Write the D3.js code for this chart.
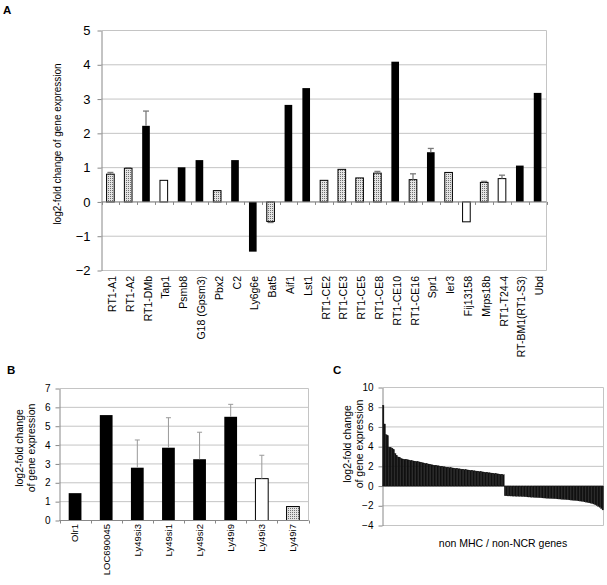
<!DOCTYPE html>
<html>
<head>
<meta charset="utf-8">
<script src="https://cdnjs.cloudflare.com/ajax/libs/d3/7.8.5/d3.min.js"></script>
<style>
body { margin: 0; background: #fff; }
svg { display: block; font-family: "Liberation Sans", Arial, sans-serif; }
</style>
</head>
<body>
<svg id="fig" width="607" height="585"></svg>
<script>
// panel A: MHC region genes
var genesA = ["RT1-A1", "RT1-A2", "RT1-DMb", "Tap1", "Psmb8", "G18 (Gpsm3)", "Pbx2", "C2",
    "Ly6g6e", "Bat5", "Aif1", "Lst1", "RT1-CE2", "RT1-CE3", "RT1-CE5", "RT1-CE8", "RT1-CE10",
    "RT1-CE16", "Spr1", "Ier3", "Fij13158", "Mrps18b", "RT1-T24-4", "RT-BM1(RT1-S3)", "Ubd"];
var valuesA = [0.81, 0.98, 2.22, 0.63, 1.01, 1.22, 0.33, 1.22, -1.45, -0.57, 2.83, 3.32, 0.63,
    0.95, 0.70, 0.84, 4.09, 0.65, 1.45, 0.86, -0.58, 0.57, 0.68, 1.06, 3.18];
var errA = [0.05, 0.02, 0.43, 0, 0, 0, 0, 0, 0, 0.03, 0, 0, 0, 0, 0, 0.05, 0, 0.17, 0.11, 0,
    0, 0.03, 0.10, 0, 0];
// k = solid, d = dotted, w = open
var fillA = ["d", "d", "k", "w", "k", "k", "d", "k", "k", "d", "k", "k", "d", "d", "d", "d", "k",
    "d", "k", "d", "w", "d", "w", "k", "k"];
var ticksA = [-2, -1, 0, 1, 2, 3, 4, 5];

// panel B: NCR genes
var genesB = ["Olr1", "LOC690045", "Ly49si3", "Ly49si1", "Ly49si2", "Ly49i9", "Ly49i3", "Ly49i7"];
var valuesB = [1.45, 5.59, 2.80, 3.86, 3.25, 5.50, 2.22, 0.74];
var errB = [0, 0, 1.47, 1.59, 1.43, 0.66, 1.24, 0];
var fillB = ["k", "k", "k", "k", "k", "k", "w", "d"];
var ticksB = [0, 1, 2, 3, 4, 5, 6, 7];

// panel C: non MHC / non-NCR genes, sorted
var posC = [8.2, 6.3, 5.2, 5.1, 3.95, 3.9, 3.85, 3.7, 3.3, 3.1, 2.95, 2.9, 2.8, 2.75, 2.72, 2.7,
    2.68, 2.65, 2.6, 2.57, 2.55, 2.52, 2.5, 2.47, 2.45, 2.4, 2.37, 2.34, 2.3, 2.27, 2.24, 2.2,
    2.17, 2.14, 2.12, 2.1, 2.07, 2.05, 2.02, 2.0, 1.97, 1.95, 1.92, 1.9, 1.88, 1.86, 1.84, 1.82,
    1.8, 1.78, 1.76, 1.74, 1.72, 1.7, 1.68, 1.66, 1.64, 1.62, 1.6, 1.58, 1.56, 1.54, 1.52, 1.5,
    1.48, 1.46, 1.44, 1.42, 1.4, 1.38, 1.36, 1.34, 1.32, 1.3, 1.28, 1.26, 1.24, 1.22, 1.2, 1.18,
    1.15];
var negC = [-0.98, -0.99, -1.0, -1.0, -1.01, -1.02, -1.02, -1.03, -1.04, -1.04, -1.05, -1.06,
    -1.07, -1.08, -1.09, -1.1, -1.11, -1.12, -1.13, -1.14, -1.15, -1.16, -1.17, -1.18, -1.19,
    -1.2, -1.21, -1.22, -1.23, -1.24, -1.25, -1.26, -1.27, -1.28, -1.29, -1.3, -1.31, -1.32,
    -1.34, -1.35, -1.36, -1.38, -1.39, -1.4, -1.42, -1.43, -1.45, -1.46, -1.48, -1.5, -1.52,
    -1.54, -1.56, -1.6, -1.63, -1.66, -1.7, -1.73, -1.77, -1.82, -1.9, -1.98, -2.06, -2.15,
    -2.28, -2.42];
var ticksC = [-4, -2, 0, 2, 4, 6, 8, 10];

var GRID = "#c4c4c4", AXIS = "#888";
var svg = d3.select("#fig");

var pat = svg.append("defs").append("pattern")
    .attr("id", "dots")
    .attr("patternUnits", "userSpaceOnUse")
    .attr("width", 2).attr("height", 2);
pat.append("rect").attr("width", 2).attr("height", 2).attr("fill", "#e4e4e4");
pat.append("rect").attr("width", 1).attr("height", 1).attr("fill", "#707070");

function fillOf(t) {
    if (t == "k") return "#000";
    if (t == "d") return "url(#dots)";
    return "#fff";
}

// gridlines, right border, left axis
function frame(g, y, ticks, x0, x1, fontSize, pad) {
    g.selectAll("line.grid").data(ticks).enter().append("line")
        .attr("class", "grid")
        .attr("x1", x0).attr("x2", x1)
        .attr("y1", function(d) { return y(d); })
        .attr("y2", function(d) { return y(d); })
        .attr("stroke", GRID);
    g.append("line")
        .attr("x1", x1).attr("x2", x1)
        .attr("y1", y.range()[0]).attr("y2", y.range()[1])
        .attr("stroke", GRID);
    var ax = g.append("g")
        .attr("transform", "translate(" + x0 + ",0)")
        .call(d3.axisLeft(y).tickValues(ticks).tickFormat(d3.format("d"))
            .tickSize(4).tickSizeOuter(0).tickPadding(pad));
    ax.attr("font-family", null).attr("font-size", fontSize);
    ax.select(".domain").attr("stroke", AXIS);
    ax.selectAll(".tick line").attr("stroke", AXIS);
    ax.selectAll(".tick text").attr("fill", "#000");
}

// zero line with category ticks hanging below it
function zeroAxis(g, x, y, n) {
    var x0 = x.range()[0], x1 = x.range()[1];
    g.append("line")
        .attr("x1", x0).attr("x2", x1)
        .attr("y1", y(0)).attr("y2", y(0))
        .attr("stroke", AXIS);
    g.selectAll("line.xtick").data(d3.range(n + 1)).enter().append("line")
        .attr("class", "xtick")
        .attr("x1", function(i) { return Math.round(x0 + i * x.step()) + 0.5; })
        .attr("x2", function(i) { return Math.round(x0 + i * x.step()) + 0.5; })
        .attr("y1", y(0)).attr("y2", y(0) + 3)
        .attr("stroke", AXIS);
}

function barPanel(cfg) {
    var g = svg.append("g");
    var rows = cfg.genes.map(function(name, i) {
        return { name: name, v: cfg.values[i], e: cfg.err[i], f: cfg.fill[i] };
    });
    var y = d3.scaleLinear().domain(d3.extent(cfg.ticks)).range([cfg.bottom, cfg.top]);
    var x = d3.scaleBand().domain(cfg.genes).range([cfg.left, cfg.right])
        .paddingInner(cfg.pad).paddingOuter(cfg.pad / 2);

    frame(g, y, cfg.ticks, cfg.left, cfg.right, cfg.tickFont, cfg.tickPad);

    g.selectAll("rect.bar").data(rows).enter().append("rect")
        .attr("class", "bar")
        .attr("x", function(d) { return x(d.name); })
        .attr("width", x.bandwidth())
        .attr("y", function(d) { return y(Math.max(0, d.v)); })
        .attr("height", function(d) { return Math.abs(y(d.v) - y(0)); })
        .attr("fill", function(d) { return fillOf(d.f); })
        .attr("stroke", "#000")
        .attr("stroke-width", function(d) { return d.f == "k" ? 0 : 1; });

    var eb = rows.filter(function(d) { return d.e > 0; });
    var cx = function(d) { return x(d.name) + x.bandwidth() / 2; };
    var tip = function(d) { return y(d.v + (d.v < 0 ? -d.e : d.e)); };
    g.selectAll("line.err").data(eb).enter().append("line")
        .attr("class", "err")
        .attr("x1", cx).attr("x2", cx)
        .attr("y1", function(d) { return y(d.v); })
        .attr("y2", tip)
        .attr("stroke", cfg.errColor).attr("stroke-width", cfg.errWidth);
    g.selectAll("line.cap").data(eb).enter().append("line")
        .attr("class", "cap")
        .attr("x1", function(d) { return cx(d) - cfg.cap; })
        .attr("x2", function(d) { return cx(d) + cfg.cap; })
        .attr("y1", tip).attr("y2", tip)
        .attr("stroke", cfg.errColor).attr("stroke-width", cfg.errWidth);

    zeroAxis(g, x, y, cfg.genes.length);

    g.selectAll("text.gene").data(cfg.genes).enter().append("text")
        .attr("class", "gene")
        .attr("transform", function(d) {
            return "translate(" + (x(d) + x.bandwidth() / 2 + cfg.labelShift) + "," + cfg.labelTop + ") rotate(-90)";
        })
        .attr("dy", "0.35em")
        .attr("text-anchor", "end")
        .attr("font-size", cfg.labelFont)
        .text(function(d) { return d; });
    return g;
}

barPanel({
    genes: genesA, values: valuesA, err: errA, fill: fillA, ticks: ticksA,
    left: 101.5, right: 546.5, top: 30.5, bottom: 270.5, pad: 0.57,
    tickFont: 13, tickPad: 7, labelFont: 10.5, labelTop: 276, labelShift: 2,
    errColor: "#7a7a7a", errWidth: 1.3, cap: 3
});

barPanel({
    genes: genesB, values: valuesB, err: errB, fill: fillB, ticks: ticksB,
    left: 59.5, right: 308.5, top: 388.5, bottom: 520.5, pad: 0.59,
    tickFont: 10, tickPad: 5, labelFont: 9.5, labelTop: 524, labelShift: 0,
    errColor: "#999", errWidth: 1, cap: 2.5
});

// panel C
var valuesC = posC.concat(negC);
var gC = svg.append("g");
var yC = d3.scaleLinear().domain([-4, 10]).range([525.5, 387.5]);
var xC = d3.scaleBand().domain(d3.range(valuesC.length)).range([382.5, 603.5])
    .paddingInner(0.04).paddingOuter(0);
frame(gC, yC, ticksC, 382.5, 603.5, 10, 5);
gC.append("line")
    .attr("x1", 382.5).attr("x2", 603.5)
    .attr("y1", yC(0)).attr("y2", yC(0))
    .attr("stroke", AXIS);
gC.selectAll("rect.bar").data(valuesC).enter().append("rect")
    .attr("class", "bar")
    .attr("x", function(d, i) { return xC(i); })
    .attr("width", xC.bandwidth())
    .attr("y", function(d) { return yC(Math.max(0, d)); })
    .attr("height", function(d) { return Math.abs(yC(d) - yC(0)); })
    .attr("fill", "#111")
    .attr("stroke", "#111")
    .attr("stroke-width", 0.35);

// titles
function ylab(x, y, lines, size) {
    var t = svg.append("text")
        .attr("transform", "translate(" + x + "," + y + ") rotate(-90)")
        .attr("text-anchor", "middle")
        .attr("font-size", size);
    lines.forEach(function(s, i) {
        t.append("tspan").attr("x", 0).attr("y", i * 12.5).attr("dy", "0.35em").text(s);
    });
}
ylab(57.5, 144, ["log2-fold change of gene expression"], 10);
ylab(19, 448, ["log2-fold change", "of gene expression"], 10.5);
ylab(347, 444, ["log2-fold change", "of gene expression"], 10.5);

svg.append("text")
    .attr("x", 503).attr("y", 547)
    .attr("text-anchor", "middle")
    .attr("font-size", 10.5)
    .text("non MHC / non-NCR genes");

svg.selectAll("text.panel").data([["A", 3, 14], ["B", 7, 374], ["C", 333, 374]])
    .enter().append("text")
    .attr("class", "panel")
    .attr("x", function(d) { return d[1]; })
    .attr("y", function(d) { return d[2]; })
    .attr("font-size", 11.5)
    .attr("font-weight", "bold")
    .text(function(d) { return d[0]; });
</script>
</body>
</html>
